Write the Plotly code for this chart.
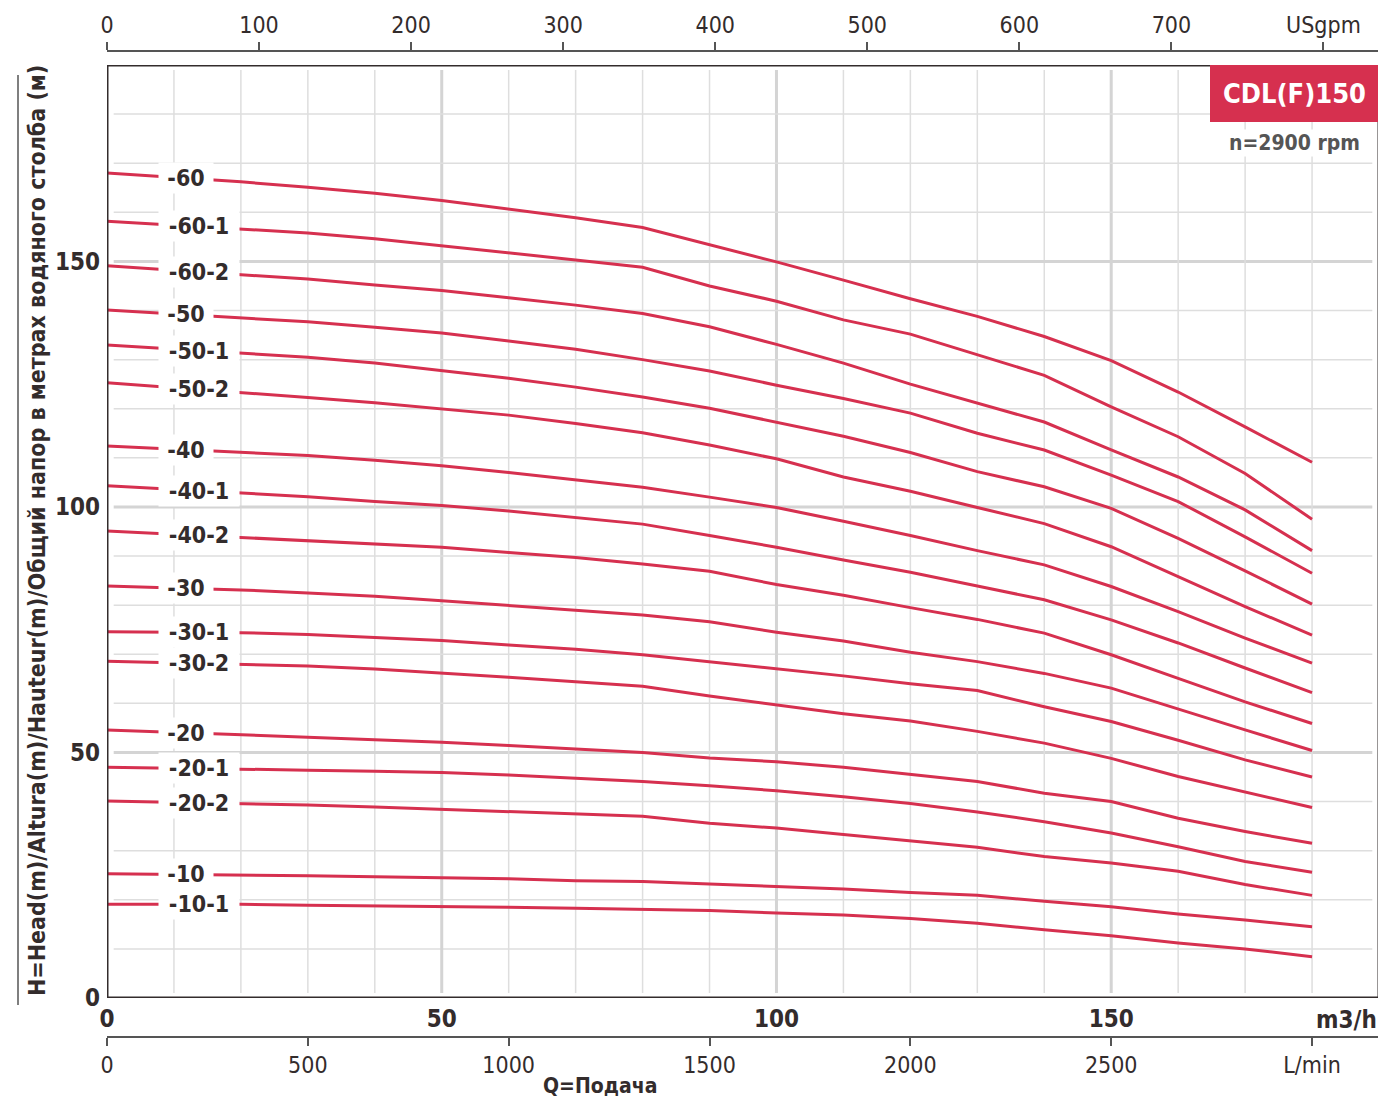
import numpy as np
import plotly.graph_objects as go

# ---------------- data ----------------
Q = [0, 20, 30, 40, 50, 60, 70, 80, 90, 100, 110, 120, 130, 140, 150, 160, 170, 180]

curve_labels = ["-60", "-60-1", "-60-2", "-50", "-50-1", "-50-2", "-40", "-40-1", "-40-2",
                "-30", "-30-1", "-30-2", "-20", "-20-1", "-20-2", "-10", "-10-1"]

H_60   = [168.0, 166.2, 165.1, 163.9, 162.4, 160.6, 158.9, 156.9, 153.4, 149.9, 146.2, 142.4, 138.8, 134.7, 129.8, 123.4, 116.3, 109.1]
H_60_1 = [158.2, 156.7, 155.8, 154.6, 153.2, 151.8, 150.3, 148.8, 145.0, 141.9, 138.1, 135.2, 131.0, 126.8, 120.4, 114.3, 106.8, 97.5]
H_60_2 = [149.1, 147.3, 146.4, 145.2, 144.1, 142.6, 141.1, 139.4, 136.7, 133.1, 129.3, 125.0, 121.2, 117.3, 111.6, 106.1, 99.4, 91.1]
H_50   = [140.1, 138.6, 137.7, 136.6, 135.4, 133.8, 132.1, 130.0, 127.7, 124.8, 122.1, 119.1, 115.0, 111.6, 106.5, 101.1, 93.9, 86.5]
H_50_1 = [133.0, 131.3, 130.5, 129.3, 127.8, 126.2, 124.4, 122.4, 120.1, 117.3, 114.4, 111.1, 107.2, 104.1, 99.7, 93.6, 87.0, 80.2]
H_50_2 = [125.3, 123.4, 122.3, 121.2, 120.0, 118.7, 117.0, 115.1, 112.6, 109.8, 106.1, 103.2, 99.9, 96.6, 91.9, 85.8, 79.7, 73.9]
H_40   = [112.4, 111.1, 110.5, 109.5, 108.4, 107.0, 105.5, 104.0, 102.0, 99.9, 97.1, 94.2, 91.1, 88.2, 83.8, 78.7, 73.3, 68.2]
H_40_1 = [104.3, 102.9, 102.1, 101.1, 100.3, 99.2, 97.8, 96.5, 94.2, 91.8, 89.2, 86.7, 83.9, 81.1, 77.0, 72.3, 67.2, 62.2]
H_40_2 = [95.1, 93.8, 93.2, 92.6, 91.8, 90.7, 89.7, 88.4, 86.9, 84.2, 82.0, 79.5, 77.1, 74.3, 69.9, 65.1, 60.3, 55.9]
H_30   = [83.9, 83.1, 82.5, 81.8, 80.9, 79.9, 78.9, 78.0, 76.6, 74.5, 72.7, 70.4, 68.5, 66.1, 63.1, 58.8, 54.6, 50.4]
H_30_1 = [74.6, 74.4, 74.0, 73.4, 72.8, 71.9, 71.0, 69.9, 68.5, 67.1, 65.6, 64.0, 62.6, 59.3, 56.3, 52.5, 48.5, 45.0]
H_30_2 = [68.6, 68.0, 67.6, 67.0, 66.2, 65.3, 64.4, 63.5, 61.5, 59.7, 57.9, 56.4, 54.3, 51.9, 48.8, 45.1, 42.0, 38.8]
H_20   = [54.6, 53.6, 53.2, 52.6, 52.1, 51.4, 50.7, 50.0, 48.9, 48.1, 47.0, 45.5, 44.1, 41.7, 40.0, 36.6, 33.9, 31.5]
H_20_1 = [47.0, 46.7, 46.4, 46.2, 45.9, 45.4, 44.8, 44.1, 43.2, 42.2, 41.0, 39.6, 37.9, 35.9, 33.6, 30.8, 27.8, 25.6]
H_20_2 = [40.1, 39.6, 39.3, 38.9, 38.4, 37.9, 37.5, 37.0, 35.6, 34.6, 33.3, 32.0, 30.7, 28.8, 27.5, 25.8, 23.1, 20.9]
H_10   = [25.3, 25.1, 24.9, 24.7, 24.5, 24.3, 23.9, 23.7, 23.2, 22.7, 22.2, 21.5, 20.9, 19.7, 18.6, 17.1, 15.9, 14.5]
H_10_1 = [19.1, 19.1, 18.9, 18.8, 18.7, 18.5, 18.3, 18.1, 17.8, 17.3, 16.9, 16.2, 15.2, 13.9, 12.7, 11.2, 10.0, 8.4]

curves = [H_60, H_60_1, H_60_2, H_50, H_50_1, H_50_2, H_40, H_40_1, H_40_2,
          H_30, H_30_1, H_30_2, H_20, H_20_1, H_20_2, H_10, H_10_1]

m3h_ticks = [0, 50, 100, 150]
head_ticks = [0, 50, 100, 150]
gpm_ticks = [0, 100, 200, 300, 400, 500, 600, 700, 800]
gpm_text = ["0", "100", "200", "300", "400", "500", "600", "700", "USgpm"]
lmin_ticks = [0, 500, 1000, 1500, 2000, 2500, 3000]
lmin_text = ["0", "500", "1000", "1500", "2000", "2500", "L/min"]

# ---------------- style ----------------
OFF = 8                      # default page body margin
W, H = 1386 - OFF, 1101 - OFF
FONT = "Liberation Sans Narrow, DejaVu Sans Condensed, Arial Narrow, sans-serif"
RED = "#D6304F"
DARK = "#332c2c"
GRAY = "#555555"
XMAX, YMAX = 190, 190

ML = 107 - OFF
MR = W - (1379 - OFF)
PT, PB = 51 - OFF, 1037 - OFF       # outer axes lines
plot_top, plot_bot = 65 - OFF, 998 - OFF
ph = PB - PT
ydom = [(PB - plot_bot) / ph, (PB - plot_top) / ph]
pw = W - ML - MR


def py_paper(page_y):
    return (PB - (page_y - OFF)) / ph


def px_paper(page_x):
    return ((page_x - OFF) - ML) / pw


fig = go.Figure()

for lab, hv in zip(curve_labels, curves):
    fig.add_trace(go.Scatter(x=Q, y=hv, mode="lines", line=dict(color=RED, width=3),
                             name=lab, showlegend=False, hoverinfo="skip"))

fig.add_trace(go.Scatter(x=[0], y=[0], xaxis="x2", yaxis="y", mode="markers",
                         marker=dict(opacity=0), showlegend=False, hoverinfo="skip"))
fig.add_trace(go.Scatter(x=[0], y=[0], xaxis="x3", yaxis="y", mode="markers",
                         marker=dict(opacity=0), showlegend=False, hoverinfo="skip"))

shapes = []
for g in range(10, 190, 10):
    major = g % 50 == 0
    st = dict(color="#d4d4d4" if major else "#dedede", width=3 if major else 1.5)
    shapes.append(dict(type="line", xref="x", yref="y", x0=g, x1=g, y0=1, y1=189,
                       line=st, layer="below"))
    shapes.append(dict(type="line", xref="x", yref="y", x0=1, x1=189, y0=g, y1=g,
                       line=st, layer="below"))
shapes.append(dict(type="rect", xref="x", yref="y", x0=0, x1=XMAX, y0=0, y1=YMAX,
                   line=dict(color=DARK, width=3), layer="above"))
xscale = (1379 - 107) / XMAX
yscale = (998 - 65) / YMAX
box_x0 = (1210 - 107) / xscale
box_y0 = (998 - 122) / yscale
shapes.append(dict(type="rect", xref="x", yref="y", x0=box_x0, x1=XMAX, y0=box_y0, y1=YMAX,
                   fillcolor=RED, line=dict(width=0), layer="above"))
shapes.append(dict(type="line", xref="paper", yref="paper",
                   x0=px_paper(18), x1=px_paper(18), y0=py_paper(1005), y1=py_paper(75),
                   line=dict(color=GRAY, width=1.5)))

annotations = []
for lab, hv in zip(curve_labels, curves):
    long_lab = len(lab) > 3
    wbox = 80 if long_lab else 54
    qc = 13.6 if long_lab else 11.7
    yc = float(np.interp(qc, Q, hv))
    annotations.append(dict(x=7.6, y=yc, xref="x", yref="y", xanchor="left", yanchor="middle",
                            text=lab, showarrow=False, width=wbox, height=30, align="center",
                            valign="middle", bgcolor="white", borderpad=0,
                            font=dict(family=FONT, size=23, color=DARK, weight="bold")))

annotations.append(dict(x=(box_x0 + XMAX) / 2, y=(box_y0 + YMAX) / 2, xref="x", yref="y",
                        text="CDL(F)150", showarrow=False, xanchor="center", yanchor="middle",
                        font=dict(family=FONT, size=27, color="white", weight="bold")))
annotations.append(dict(x=(box_x0 + XMAX) / 2, y=py_paper(143), xref="x", yref="paper",
                        yanchor="middle", text="n=2900 rpm", showarrow=False, bgcolor="white",
                        font=dict(family=FONT, size=21, color=GRAY, weight="bold")))
annotations.append(dict(x=px_paper(37), y=py_paper(531), xref="paper", yref="paper",
                        text="H=Head(m)/Altura(m)/Hauteur(m)/Общий напор в метрах водяного столба (м)",
                        textangle=-90, showarrow=False, xanchor="center", yanchor="middle",
                        font=dict(family=FONT, size=23, color=DARK, weight="bold")))
annotations.append(dict(x=1, y=py_paper(1020), xref="paper", yref="paper",
                        xanchor="right", yanchor="middle", text="m3/h", showarrow=False,
                        font=dict(family=FONT, size=24, color=DARK, weight="bold")))
annotations.append(dict(x=px_paper(600), y=py_paper(1100), xref="paper", yref="paper",
                        xanchor="center", yanchor="bottom", text="Q=Подача", showarrow=False,
                        font=dict(family=FONT, size=21, color=DARK, weight="bold")))

gpm_per_m3h = 1 / 0.2271247
fig.update_layout(
    template="none",
    width=W, height=H,
    margin=dict(l=ML, r=MR, t=PT, b=H - PB, pad=0, autoexpand=False),
    paper_bgcolor="white", plot_bgcolor="white",
    font=dict(family=FONT, color=DARK),
    showlegend=False,
    shapes=shapes, annotations=annotations,
    xaxis=dict(range=[0, XMAX], tickvals=m3h_ticks, showgrid=False, zeroline=False,
               showline=False, ticks="", anchor="y", automargin=False,
               tickfont=dict(family=FONT, size=24, color=DARK, weight="bold"),
               ticklabelstandoff=4),
    yaxis=dict(range=[0, YMAX], domain=ydom, tickvals=head_ticks, showgrid=False,
               zeroline=False, showline=False, ticks="", automargin=False,
               tickfont=dict(family=FONT, size=24, color=DARK, weight="bold"),
               ticklabelstandoff=6),
    xaxis2=dict(range=[0, XMAX * gpm_per_m3h], overlaying="x", side="top", anchor="free",
                position=1, tickvals=gpm_ticks, ticktext=gpm_text, ticks="outside",
                ticklen=8, tickwidth=1.5, tickcolor=GRAY, showline=True, linecolor=GRAY,
                linewidth=1.5, showgrid=False, zeroline=False, automargin=False,
                tickfont=dict(family=FONT, size=23, color=DARK)),
    xaxis3=dict(range=[0, XMAX * 1000 / 60], overlaying="x", side="bottom", anchor="free",
                position=0, tickvals=lmin_ticks, ticktext=lmin_text, ticks="outside",
                ticklen=8, tickwidth=1.5, tickcolor=GRAY, showline=True, linecolor=GRAY,
                linewidth=1.5, showgrid=False, zeroline=False, automargin=False,
                tickfont=dict(family=FONT, size=23, color=DARK)),
)

fig.write_html("out.html")
